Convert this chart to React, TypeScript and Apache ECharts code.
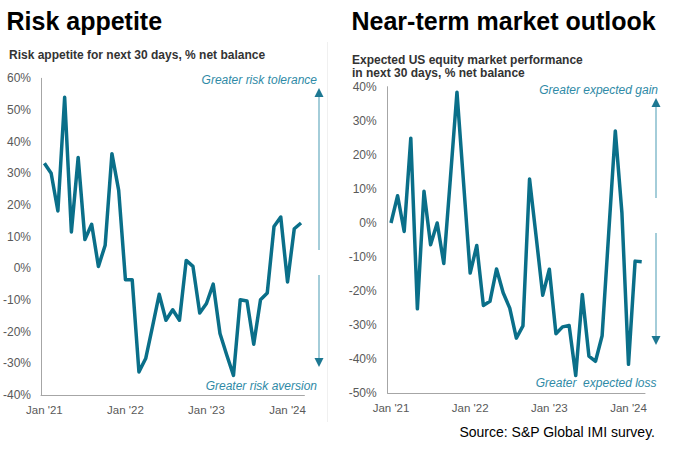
import React, { useEffect, useRef } from "react";
import * as echarts from "echarts";

const months: string[] = [
  "Jan '21", "Feb '21", "Mar '21", "Apr '21", "May '21", "Jun '21", "Jul '21", "Aug '21", "Sep '21", "Oct '21", "Nov '21", "Dec '21",
  "Jan '22", "Feb '22", "Mar '22", "Apr '22", "May '22", "Jun '22", "Jul '22", "Aug '22", "Sep '22", "Oct '22", "Nov '22", "Dec '22",
  "Jan '23", "Feb '23", "Mar '23", "Apr '23", "May '23", "Jun '23", "Jul '23", "Aug '23", "Sep '23", "Oct '23", "Nov '23", "Dec '23",
  "Jan '24", "Feb '24", "Mar '24",
];

const riskAppetite: number[] = [
  33.2, 30.0, 18.1, 54.0, 11.5, 35.0, 9.1, 13.9, 0.6, 7.3, 36.2, 24.6,
  -3.6, -3.6, -32.7, -28.5, -18.5, -8.2, -16.4, -13.1, -16.4, 2.5, 0.6, -14.1,
  -11.1, -5.0, -20.6, -27.4, -33.8, -9.9, -10.3, -24.0, -9.9, -7.8, 13.2, 16.2,
  -4.3, 12.5, 14.3,
];

const marketOutlook: number[] = [
  0, 8, -2.5, 24.9, -25.2, 9.3, -6.4, 0, -11.9, 13, 38.4, 11.8,
  -14.7, -6.6, -24.2, -23, -13.5, -20.5, -25, -33.8, -30.2, 12.9, -4, -21.2,
  -13.6, -32.5, -30.5, -30.1, -44.8, -21, -39.1, -40.6, -33.1, -3, 27, 3,
  -41.5, -11.2, -11.4,
];

const leftTitle = "Risk appetite";
const rightTitle = "Near-term market outlook";
const leftSubtitle = "Risk appetite for next 30 days, % net balance";
const rightSubtitle1 = "Expected US equity market performance";
const rightSubtitle2 = "in next 30 days, % net balance";
const sourceText = "Source: S&P Global IMI survey.";

const FONT = "'Liberation Sans', Arial, Helvetica, sans-serif";
const LINE = "#0a6f89";
const NOTE = "#2f8aa6";
const ARROW_LINE = "#86bccd";
const ARROW_HEAD = "#1d7892";
const AXIS = "#a6a6a6";
const LABEL = "#595959";

function txt(x: number, y: number, text: string, font: string, fill: string, align = "left") {
  return {
    type: "text",
    x,
    y,
    silent: true,
    style: {
      text,
      font,
      fill,
      textAlign: align,
      align,
      textVerticalAlign: "middle",
      verticalAlign: "middle",
    },
  };
}

function arrow(x: number, y1: number, y2: number, dir: "up" | "down") {
  const head = 9;
  const half = 4.5;
  const els: any[] = [];
  if (dir === "up") {
    els.push({ type: "line", silent: true, shape: { x1: x, y1: y2, x2: x, y2: y1 + head - 1 }, style: { stroke: ARROW_LINE, lineWidth: 1.5 } });
    els.push({ type: "polygon", silent: true, shape: { points: [[x, y1], [x - half, y1 + head], [x + half, y1 + head]] }, style: { fill: ARROW_HEAD } });
  } else {
    els.push({ type: "line", silent: true, shape: { x1: x, y1: y1, x2: x, y2: y2 - head + 1 }, style: { stroke: ARROW_LINE, lineWidth: 1.5 } });
    els.push({ type: "polygon", silent: true, shape: { points: [[x, y2], [x - half, y2 - head], [x + half, y2 - head]] }, style: { fill: ARROW_HEAD } });
  }
  return els;
}

export default function App() {
  const ref = useRef<HTMLDivElement>(null);

  useEffect(() => {
    document.body.style.margin = "0";
    if (!ref.current) return;
    const chart = echarts.init(ref.current, undefined, { renderer: "svg" });

    const catAxis = (gridIndex: number) => ({
      type: "category",
      gridIndex,
      data: months,
      boundaryGap: true,
      axisLine: { show: false },
      axisTick: { show: false },
      axisLabel: {
        interval: 11,
        margin: 9,
        color: LABEL,
        fontSize: 11.5,
        fontFamily: FONT,
      },
      splitLine: { show: false },
    });

    const zeroAxis = (gridIndex: number) => ({
      type: "category",
      gridIndex,
      data: months,
      position: "bottom",
      boundaryGap: true,
      axisLine: { show: true, onZero: true, lineStyle: { color: AXIS, width: 1 } },
      axisTick: { show: false },
      axisLabel: { show: false },
      splitLine: { show: false },
    });

    const valAxis = (gridIndex: number, min: number, max: number, margin: number) => ({
      type: "value",
      gridIndex,
      min,
      max,
      interval: 10,
      axisLine: { show: true, lineStyle: { color: AXIS, width: 1 } },
      axisTick: { show: false },
      splitLine: { show: false },
      axisLabel: {
        formatter: "{value}%",
        margin,
        color: LABEL,
        fontSize: 12,
        fontFamily: FONT,
      },
    });

    const graphics: any[] = [
      txt(6.5, 21, leftTitle, `bold 25px ${FONT}`, "#000000"),
      txt(351.5, 21, rightTitle, `bold 25px ${FONT}`, "#000000"),
      txt(9, 55, leftSubtitle, `bold 12px ${FONT}`, "#333333"),
      txt(352, 59.5, rightSubtitle1, `bold 12px ${FONT}`, "#333333"),
      txt(352, 72.5, rightSubtitle2, `bold 12px ${FONT}`, "#333333"),
      txt(317, 80, "Greater risk tolerance", `italic 12px ${FONT}`, NOTE, "right"),
      txt(317, 385.5, "Greater risk aversion", `italic 12px ${FONT}`, NOTE, "right"),
      txt(658, 89.5, "Greater expected gain", `italic 12px ${FONT}`, NOTE, "right"),
      txt(656.5, 382.5, "Greater  expected loss", `italic 12px ${FONT}`, NOTE, "right"),
      txt(655, 431.5, sourceText, `14px ${FONT}`, "#000000", "right"),
      { type: "line", silent: true, shape: { x1: 327.5, y1: 42, x2: 327.5, y2: 422 }, style: { stroke: "#f0f0f0", lineWidth: 1 } },
      ...arrow(319, 88, 250, "up"),
      ...arrow(319, 275, 367, "down"),
      ...arrow(656, 98, 198, "up"),
      ...arrow(656, 233, 345, "down"),
    ];

    chart.setOption({
      animation: false,
      backgroundColor: "#ffffff",
      textStyle: { fontFamily: FONT },
      grid: [
        { left: 40, top: 78.3, width: 264.4, height: 316.7, containLabel: false },
        { left: 387.7, top: 86.7, width: 257.3, height: 306.6, containLabel: false },
      ],
      xAxis: [catAxis(0), catAxis(1), zeroAxis(0), zeroAxis(1)],
      yAxis: [valAxis(0, -40, 60, 10), valAxis(1, -50, 40, 11)],
      series: [
        {
          type: "line",
          name: "Risk appetite",
          xAxisIndex: 0,
          yAxisIndex: 0,
          data: riskAppetite,
          symbol: "none",
          smooth: false,
          lineStyle: { color: LINE, width: 3.5, join: "round" },
          z: 3,
        },
        {
          type: "line",
          name: "Market outlook",
          xAxisIndex: 1,
          yAxisIndex: 1,
          data: marketOutlook,
          symbol: "none",
          smooth: false,
          lineStyle: { color: LINE, width: 3.5, join: "round" },
          z: 3,
        },
      ],
      graphic: graphics,
    });

    return () => chart.dispose();
  }, []);

  return (
    <div
      ref={ref}
      style={{ position: "fixed", left: 0, top: 0, width: 676, height: 450, background: "#fff" }}
    />
  );
}
